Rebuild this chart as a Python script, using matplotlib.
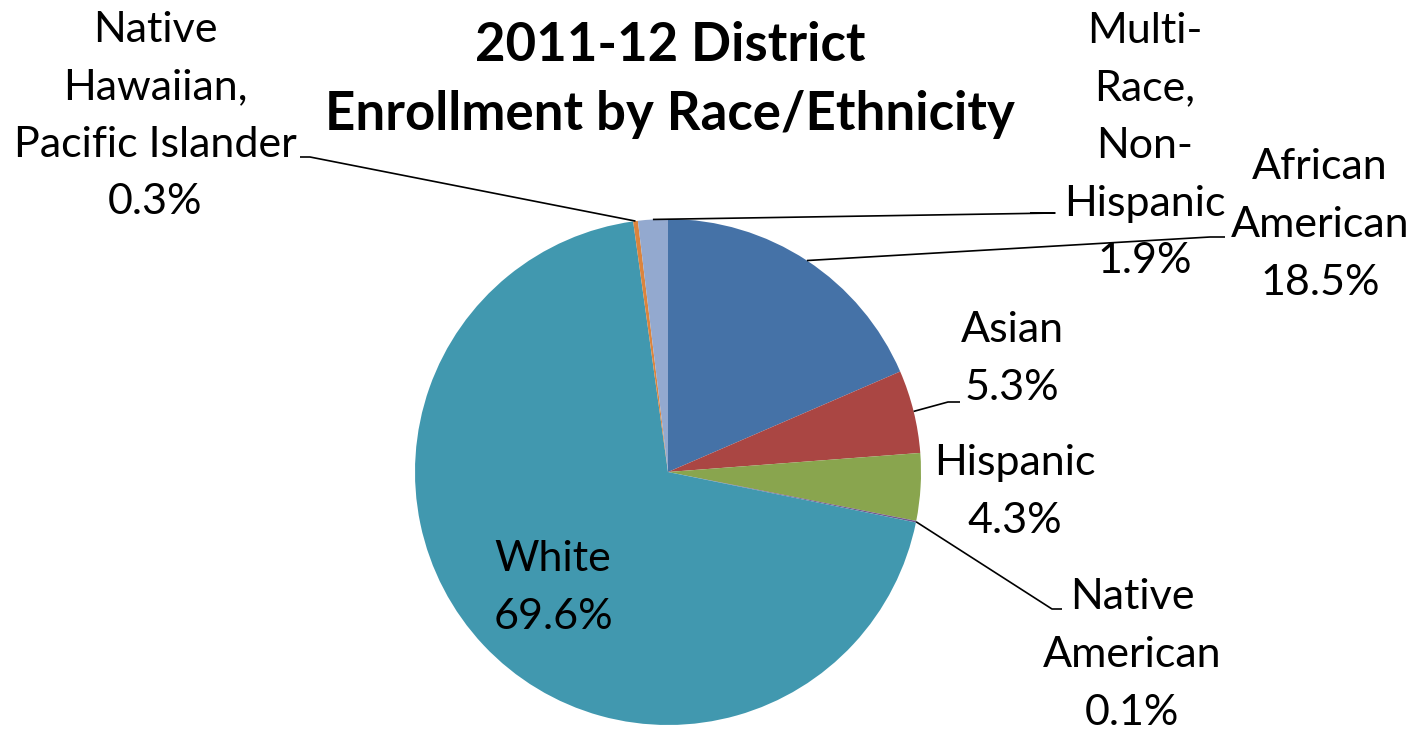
import numpy as np
import matplotlib
matplotlib.use("Agg")
import matplotlib.pyplot as plt

# Enrollment shares (percent), clockwise from 12 o'clock
groups = ["African\nAmerican", "Asian", "Hispanic", "Native\nAmerican", "White",
          "Native\nHawaiian,\nPacific Islander", "Multi-\nRace,\nNon-\nHispanic"]
shares = [18.5, 5.3, 4.3, 0.1, 69.6, 0.3, 1.9]
colors = ["#4572A7", "#AA4643", "#89A54E", "#71588F", "#4198AF", "#DB843D", "#93A9CF"]
title = "2011-12 District\nEnrollment by Race/Ethnicity"

W, H = 1428, 733
fig = plt.figure(figsize=(W / 100, H / 100), dpi=100)
ax = fig.add_axes([0, 0, 1, 1])

FONT = "Lato"
cx, cy, R = 668, H - 472, 253

wedges, _ = ax.pie(shares, colors=colors, startangle=90, counterclock=False,
                   center=(cx, cy), radius=R, frame=True,
                   wedgeprops=dict(linewidth=0))
ax.set_xlim(0, W)
ax.set_ylim(0, H)
ax.set_aspect("equal")
ax.axis("off")

# label placement: (text centre x, text centre y in pixels from top, leader elbow or None)
layout = {
    0: dict(xy=(1320, 225), elbow=[(1210, 237), (1225, 237)]),
    1: dict(xy=(1012, 359), elbow=[(948, 402), (960, 402)]),
    2: dict(xy=(1015, 492), elbow=None),
    3: dict(xy=(1132, 655), elbow=[(1052, 609), (1062, 609)]),
    4: dict(xy=(553, 588), elbow=None),
    5: dict(xy=(155, 116), elbow=[(310, 157), (300, 157)]),
    6: dict(xy=(1145, 146), elbow=[(1055, 213), (1030, 213)]),
}

for i, (w, g, s) in enumerate(zip(wedges, groups, shares)):
    mid = np.deg2rad((w.theta1 + w.theta2) / 2)
    ex, ey = cx + R * np.cos(mid), cy + R * np.sin(mid)
    lay = layout[i]
    tx, ty = lay["xy"]
    ax.text(tx, H - ty, f"{g}\n{s:.1f}%", ha="center", va="center",
            fontsize=31, family=FONT, color="black", linespacing=1.63)
    if lay["elbow"] is not None:
        (x1, y1), (x2, y2) = lay["elbow"]
        ax.plot([ex, x1, x2], [ey, H - y1, H - y2], color="black", lw=1.2,
                solid_capstyle="butt")

ax.text(670, H - 80, title, ha="center", va="center", fontsize=38,
        family=FONT, fontweight="bold", linespacing=1.52)

fig.savefig("out.png", dpi=100)
